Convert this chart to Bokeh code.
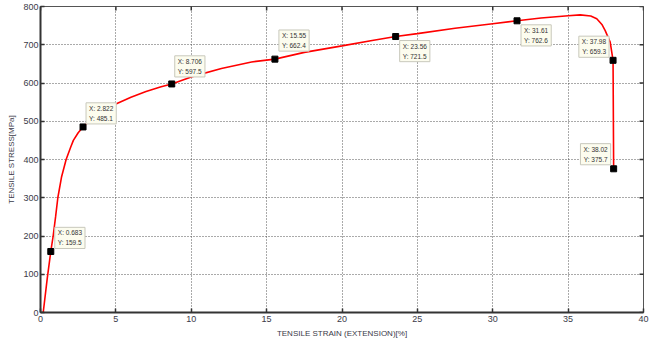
import math
from bokeh.plotting import figure
from bokeh.models import Label, FixedTicker, Range1d
from bokeh.embed import file_html
from bokeh.resources import INLINE

# ---- data ----
strain = [0.18, 0.45, 0.683, 0.84, 1.0, 1.15, 1.4, 1.7, 2.0, 2.18, 2.5, 2.822,
          3.5, 4.2, 5.0, 6.0, 7.0, 8.0, 8.706, 10.0, 12.0, 14.0, 15.55, 17.5,
          20.0, 22.0, 23.56, 25.0, 27.5, 30.0, 31.61, 33.2, 35.0, 35.8, 36.5,
          36.9, 37.24, 37.46, 37.79, 37.98, 38.02]
stress = [0, 90, 159.5, 200, 250, 300, 355, 400, 432, 450, 470, 485.1,
          510, 528, 545, 563, 578, 590, 597.5, 616, 638, 655, 662.4, 680,
          697, 711, 721.5, 729, 743, 755, 762.6, 770, 776, 778, 775,
          768, 753, 737, 707, 659.3, 375.7]

tip_x = [0.683, 2.822, 8.706, 15.55, 23.56, 31.61, 37.98, 38.02]
tip_y = [159.5, 485.1, 597.5, 662.4, 721.5, 762.6, 659.3, 375.7]
tip_x_txt = ["0.683", "2.822", "8.706", "15.55", "23.56", "31.61", "37.98", "38.02"]
tip_y_txt = ["159.5", "485.1", "597.5", "662.4", "721.5", "762.6", "659.3", "375.7"]

x_ticks = [0, 5, 10, 15, 20, 25, 30, 35, 40]
y_ticks = [0, 100, 200, 300, 400, 500, 600, 700, 800]

x_label = "TENSILE STRAIN (EXTENSION)[%]"
y_label = "TENSILE STRESS[MPa]"

# ---- styling / placement of the data tips (screen px) ----
tip_dx = [4, 3, 3, 4, 4, 4, -4, -3]
tip_dy = [3, 3, 7, 8, -4, -4, 3, 4]
tip_align = ["left"] * 6 + ["right"] * 2
tip_base = ["bottom"] * 4 + ["top"] * 2 + ["bottom"] * 2

FONT = "Liberation Sans"
TXT = "#3a3a48"

p = figure(width=650, height=343, output_backend="svg", toolbar_location=None,
           x_range=Range1d(0, 40), y_range=Range1d(0, 800),
           min_border_left=40, min_border_right=7, min_border_top=6,
           min_border_bottom=31, background_fill_color="white",
           border_fill_color="white")

p.outline_line_color = "#555555"
p.outline_line_width = 1

for ax, ticks in ((p.xaxis[0], x_ticks), (p.yaxis[0], y_ticks)):
    ax.ticker = FixedTicker(ticks=ticks, minor_ticks=[])
    ax.major_tick_in = 4
    ax.major_tick_out = 0
    ax.major_tick_line_width = 1.5
    ax.major_tick_line_color = "#333333"
    ax.axis_line_width = 2
    ax.axis_line_color = "#333333"
    ax.major_label_text_font = FONT
    ax.major_label_text_font_size = "9px"
    ax.major_label_text_color = TXT
    ax.major_label_standoff = 3
    ax.axis_label_text_font = FONT
    ax.axis_label_text_font_size = "8px"
    ax.axis_label_text_font_style = "normal"
    ax.axis_label_text_color = TXT
    ax.axis_label_standoff = 4

p.xaxis[0].axis_label = x_label
p.yaxis[0].axis_label = y_label
p.yaxis[0].major_label_standoff = 2

p.xgrid.ticker = FixedTicker(ticks=x_ticks)
p.ygrid.ticker = FixedTicker(ticks=y_ticks)
p.grid.grid_line_color = "#444444"
p.grid.grid_line_dash = "1 2"
p.grid.grid_line_width = 1
p.grid.grid_line_alpha = 0.9

# inward tick marks on the top and right edges (box on)
p.scatter(x_ticks, [p.y_range.end] * len(x_ticks), marker="dash",
          angle=math.pi / 2, size=8, line_color="#333333", line_width=1.5)
p.scatter([p.x_range.end] * len(y_ticks), y_ticks, marker="dash",
          size=8, line_color="#333333", line_width=1.5)

p.line(strain, stress, line_color="#ff0000", line_width=1.6)

p.scatter(tip_x, tip_y, marker="square", size=6,
          fill_color="black", line_color="black")

for i in range(len(tip_x)):
    p.add_layout(Label(x=tip_x[i], y=tip_y[i],
                       text="X: %s\nY: %s" % (tip_x_txt[i], tip_y_txt[i]),
                       x_offset=tip_dx[i], y_offset=tip_dy[i],
                       text_align=tip_align[i], text_baseline=tip_base[i],
                       text_font=FONT, text_font_size="6.5px",
                       text_color="#333333", text_line_height=1.45,
                       background_fill_color="#fcfcee",
                       border_line_color="#c8c8bc", border_line_width=1,
                       padding=(3, 2)))

open("out.html", "w").write(file_html(p, INLINE))
